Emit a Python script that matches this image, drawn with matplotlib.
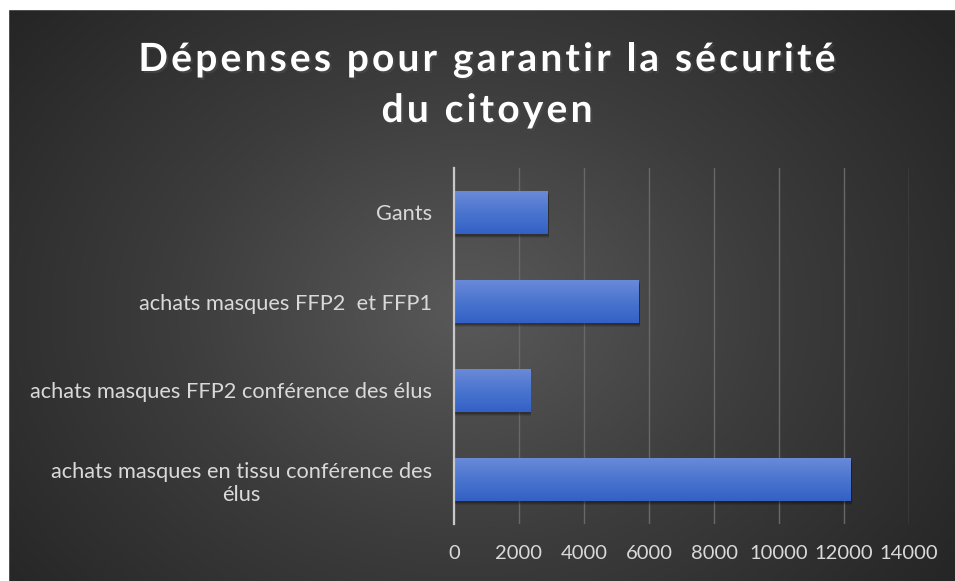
import numpy as np
import matplotlib
matplotlib.use("Agg")
import matplotlib.pyplot as plt
import matplotlib.patheffects as pe
from matplotlib.colors import LinearSegmentedColormap
from matplotlib.patches import Rectangle

# data
categories = ["achats masques en tissu conférence des\nélus",
              "achats masques FFP2 conférence des élus",
              "achats masques FFP2  et FFP1",
              "Gants"]
values = [12200, 2340, 5680, 2880]
xticks = [0, 2000, 4000, 6000, 8000, 10000, 12000, 14000]
title_lines = ["Dépenses pour garantir la sécurité", "du citoyen"]

W, H = 955, 581
fig = plt.figure(figsize=(W / 100, H / 100), dpi=100)
fig.patch.set_facecolor("#252525")

# radial dark background
bg = fig.add_axes([0, 0, 1, 1], zorder=0)
yy, xx = np.mgrid[0:300, 0:500]
r = np.sqrt(((xx - 245) / 300.0) ** 2 + ((yy - 160) / 230.0) ** 2)
bg_cmap = LinearSegmentedColormap.from_list("bg", ["#595959", "#3c3c3c", "#252525"])
bg.imshow(r, cmap=bg_cmap, aspect="auto", vmin=0, vmax=1.05)
bg.set_axis_off()

# white strips on top and left edges
fig.patches.append(Rectangle((0, 0), 8 / W, 1, transform=fig.transFigure,
                             color="white", zorder=10))
fig.patches.append(Rectangle((0, 1 - 9 / H), 1, 9 / H, transform=fig.transFigure,
                             color="white", zorder=10))

ax = fig.add_axes([454 / W, 1 - 524 / H, (909 - 454) / W, (524 - 168) / H], zorder=1)
ax.patch.set_alpha(0)

y = np.arange(len(categories))
bars = ax.barh(y, values, height=0.48, color="#4472c4", zorder=3)

bar_cmap = LinearSegmentedColormap.from_list("bar", ["#6a8ad8", "#4a75cf", "#3460c6"])
grad = np.linspace(0, 1, 100).reshape(-1, 1)
for b in bars:
    x0, y0 = b.get_x(), b.get_y()
    w, h = b.get_width(), b.get_height()
    # soft shadow under the bar
    for k, a in [(0.05, 0.1), (0.035, 0.13), (0.02, 0.18)]:
        ax.barh(y0 + h / 2 - k, w + 40, height=h, left=0, color="black",
                alpha=a, zorder=2)
    im = ax.imshow(grad, cmap=bar_cmap, aspect="auto", zorder=4,
                   extent=[x0, x0 + w, y0, y0 + h], origin="upper")
    im.set_clip_path(b)

ax.set_xlim(0, 14000)
ax.set_ylim(-0.5, len(categories) - 0.5)
ax.set_xticks(xticks)
ax.set_xticklabels([str(t) for t in xticks])
ax.set_yticks(y)
ax.set_yticklabels(categories, ha="right", multialignment="center")

ax.grid(axis="x", color="#686868", linewidth=1, zorder=1)
ax.tick_params(axis="x", length=0, pad=15, labelsize=14.5, labelcolor="#d9d9d9")
ax.tick_params(axis="y", length=0, pad=16, labelsize=15.7, labelcolor="#d9d9d9")
for lab in ax.get_xticklabels() + ax.get_yticklabels():
    lab.set_fontfamily(["Lato", "DejaVu Sans"])

for s in ["top", "right", "bottom"]:
    ax.spines[s].set_visible(False)
ax.spines["left"].set_color("#c8c8c8")
ax.spines["left"].set_linewidth(1.6)
ax.spines["left"].set_zorder(5)

# title with letter spacing, drawn char by char
renderer = fig.canvas.get_renderer()
tkw = dict(color="white", fontsize=28, fontweight="bold",
           family=["Lato", "DejaVu Sans"],
           path_effects=[pe.withSimplePatchShadow(offset=(1.5, -1.5), alpha=0.6)])


def text_width(s):
    t = fig.text(0, 0, s, **tkw)
    wpx = t.get_window_extent(renderer).width
    t.remove()
    return wpx


spacing = 3.2
bar_w = text_width("|")
for line, base in zip(title_lines, [71, 122]):
    total = text_width(line) + spacing * (len(line) - 1)
    start = 487 - total / 2
    for i, ch in enumerate(line):
        if ch == " ":
            continue
        off = text_width(line[:i] + "|") - bar_w if i else 0
        fig.text((start + off + i * spacing) / W, 1 - base / H, ch,
                 ha="left", va="baseline", **tkw)

fig.savefig("out.png", dpi=100, facecolor=fig.get_facecolor())
